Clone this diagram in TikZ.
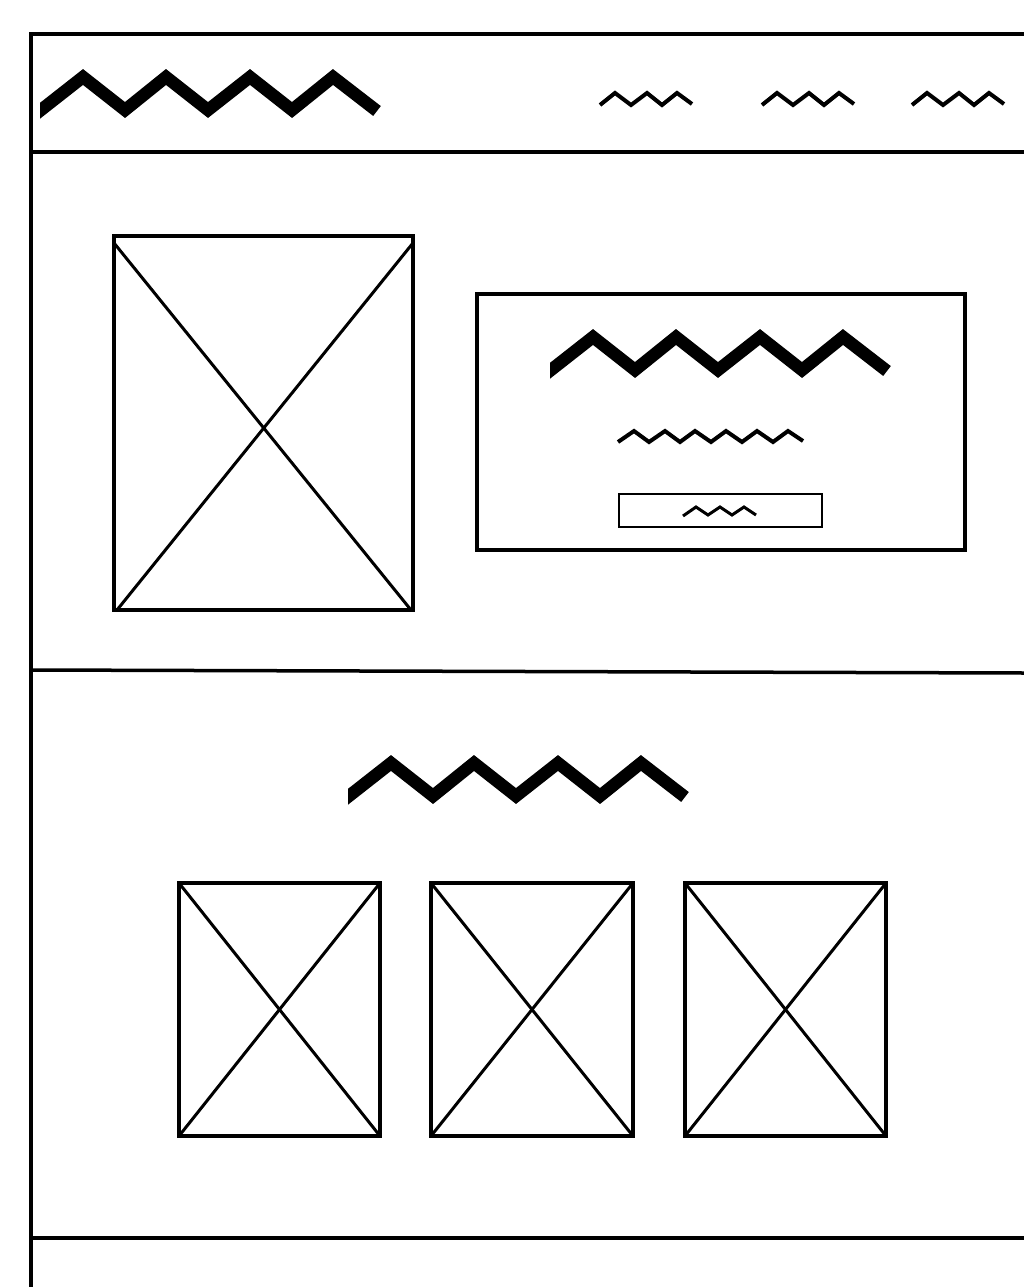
\documentclass[tikz,border=0pt]{standalone}
\begin{document}
\begin{tikzpicture}[x=1pt,y=-1pt,
  frame/.style={line width=3.5pt},
  imgbox/.style={line width=3.5pt},
  cross/.style={line width=3pt},
  bigzz/.style={line width=12.5pt, miter limit=10},
  smallzz/.style={line width=4pt},
  btn/.style={line width=2.2pt}]
\useasboundingbox (0,0) rectangle (1024,1287);
\fill[white] (0,0) rectangle (1024,1287);
% page frame
\coordinate (tl) at (31,34);
\coordinate (tr) at (1024,34);
\coordinate (bl) at (31,1287);
\draw[frame] (29,34) -- (tr);
\draw[frame] (tl) -- (bl);
\draw[frame] (31,152) -- (1024,152);
\draw[frame] (31,670) -- (1024,673);
\draw[frame] (31,1238) -- (1024,1238);
% big zigzag macro via scopes
\newcommand{\wzig}[2]{%
  \begin{scope}[shift={(#1,#2)}]
    \clip (40,50) rectangle (400,140);
    \draw[bigzz] (30,118.6) -- (83,77) -- (125,110) -- (166,77) -- (208,110)
      -- (250,77) -- (292,110) -- (333,77) -- (377,111);
  \end{scope}}
\wzig{0}{0}
\wzig{510}{260}
\wzig{308}{686}
% nav items
\newcommand{\wnav}[1]{%
  \begin{scope}[shift={(#1,0)}]
    \draw[smallzz] (600,105) -- (615,93) -- (631,105) -- (647,93) -- (662,105)
      -- (677,93) -- (692,104);
  \end{scope}}
\wnav{0}
\wnav{162}
\wnav{312}
% hero image
\draw[imgbox] (114,236) rectangle (413,610);
\draw[cross] (114,243) -- (411,610);
\draw[cross] (413,243) -- (117,610);
% hero text box
\draw[imgbox] (477,294) rectangle (965,550);
\draw[smallzz] (618,442) -- (634,431) -- (649,442) -- (665,431) -- (680,442)
  -- (695,431) -- (711,442) -- (726,431) -- (742,442) -- (757,431)
  -- (773,442) -- (788,431) -- (803,441);
\draw[btn] (619,494) rectangle (822,527);
\draw[line width=3pt] (683,516) -- (696,507) -- (708,515) -- (720,507)
  -- (732,515) -- (744,507) -- (756,515);
% three cards
\foreach \x/\w in {179/201, 431/202, 685/201} {
  \draw[imgbox] (\x,883) rectangle ({\x+\w},1136);
  \draw[cross] (\x,883) -- ({\x+\w},1136);
  \draw[cross] ({\x+\w},883) -- (\x,1136);
}
\end{tikzpicture}
\end{document}
